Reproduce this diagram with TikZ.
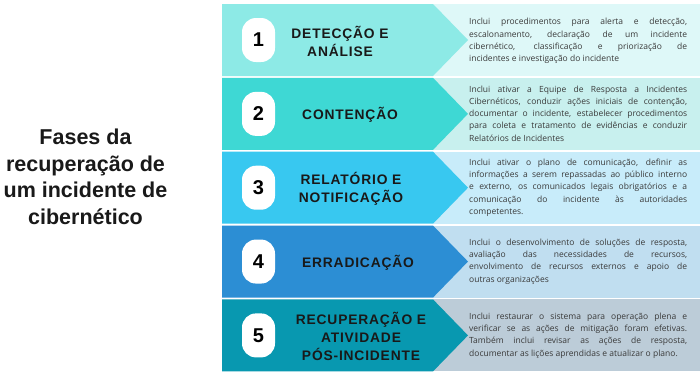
\documentclass[tikz,border=0pt]{standalone}
\usepackage{fontspec}
\setmainfont{Liberation Sans}
\newfontfamily\descfont{Open Sans}
\newfontfamily\labfont[LetterSpace=6]{Liberation Sans}
\definecolor{mainA}{HTML}{8DEAE6}
\definecolor{sideA}{HTML}{DEF8F8}
\definecolor{mainB}{HTML}{3ED8D4}
\definecolor{sideB}{HTML}{C8F0EE}
\definecolor{mainC}{HTML}{38C8F0}
\definecolor{sideC}{HTML}{C8ECFA}
\definecolor{mainD}{HTML}{2C8ED4}
\definecolor{sideD}{HTML}{C0DEF0}
\definecolor{mainE}{HTML}{0898B0}
\definecolor{sideE}{HTML}{BCCCD8}
\definecolor{descgray}{HTML}{3A3A3A}
\newcommand{\jl}[1]{\makebox[218pt][s]{#1}}
\begin{document}
\begin{tikzpicture}[x=1pt,y=-1pt,
  badge/.style={fill=white, rounded corners=14pt, minimum width=33pt, minimum height=44pt, inner sep=0,
    font=\bfseries\fontsize{20}{20}\selectfont, text=black},
  lab/.style={font=\labfont\bfseries\fontsize{13.8}{18}\selectfont, align=center, text=black!90, inner sep=0},
  desc/.style={anchor=west, font=\descfont\fontsize{8.5}{12.3}\selectfont, align=left, text=descgray, inner sep=0},
  title/.style={font=\bfseries\fontsize{21.5}{26.5}\selectfont, align=center, text=black!90, inner sep=0}]
\useasboundingbox[fill=white] (0,0) rectangle (700,378);
% rows
\foreach \i/\m/\s in {0/mainA/sideA,1/mainB/sideB,2/mainC/sideC,3/mainD/sideD,4/mainE/sideE}{
  \pgfmathsetmacro{\t}{4+73.85*\i}
  \fill[\s] (433,\t) rectangle (700,\t+72);
  \fill[\m] (222,\t) -- (433,\t) -- (468,\t+36) -- (433,\t+72) -- (222,\t+72) -- cycle;
}
% badges
\node[badge] (b1) at (258.5,40) {1};
\node[badge] (b2) at (258.5,113.85) {2};
\node[badge] (b3) at (258.5,187.7) {3};
\node[badge] (b4) at (258.5,261.55) {4};
\node[badge] (b5) at (258.5,335.4) {5};
% labels
\node[lab] (l1) at (340,41) {DETECÇÃO E\\ANÁLISE};
\node[lab] (l2) at (350,114.5) {CONTENÇÃO};
\node[lab] (l3) at (351,188.5) {RELATÓRIO E\\NOTIFICAÇÃO};
\node[lab] (l4) at (358,262.5) {ERRADICAÇÃO};
\node[lab] (l5) at (361,336) {RECUPERAÇÃO E\\ATIVIDADE\\PÓS-INCIDENTE};
% descriptions
\node[desc] (d1) at (469,41) {\jl{Inclui procedimentos para alerta e detecção,}\\
\jl{escalonamento, declaração de um incidente}\\
\jl{cibernético, classificação e priorização de}\\
incidentes e investigação do incidente};
\node[desc] (d2) at (469,113.5) {\jl{Inclui ativar a Equipe de Resposta a Incidentes}\\
\jl{Cibernéticos, conduzir ações iniciais de contenção,}\\
\jl{documentar o incidente, estabelecer procedimentos}\\
\jl{para coleta e tratamento de evidências e conduzir}\\
Relatórios de Incidentes};
\node[desc] (d3) at (469,187.5) {\jl{Inclui ativar o plano de comunicação, definir as}\\
\jl{informações a serem repassadas ao público interno}\\
\jl{e externo, os comunicados legais obrigatórios e a}\\
\jl{comunicação do incidente às autoridades}\\
competentes.};
\node[desc] (d4) at (469,261.5) {\jl{Inclui o desenvolvimento de soluções de resposta,}\\
\jl{avaliação das necessidades de recursos,}\\
\jl{envolvimento de recursos externos e apoio de}\\
outras organizações};
\node[desc] (d5) at (469,335.5) {\jl{Inclui restaurar o sistema para operação plena e}\\
\jl{verificar se as ações de mitigação foram efetivas.}\\
\jl{Também inclui revisar as ações de resposta,}\\
documentar as lições aprendidas e atualizar o plano.};
% title
\node[title] (t) at (85.5,177) {Fases da\\recuperação de\\um incidente de\\cibernético};
\end{tikzpicture}
\end{document}
